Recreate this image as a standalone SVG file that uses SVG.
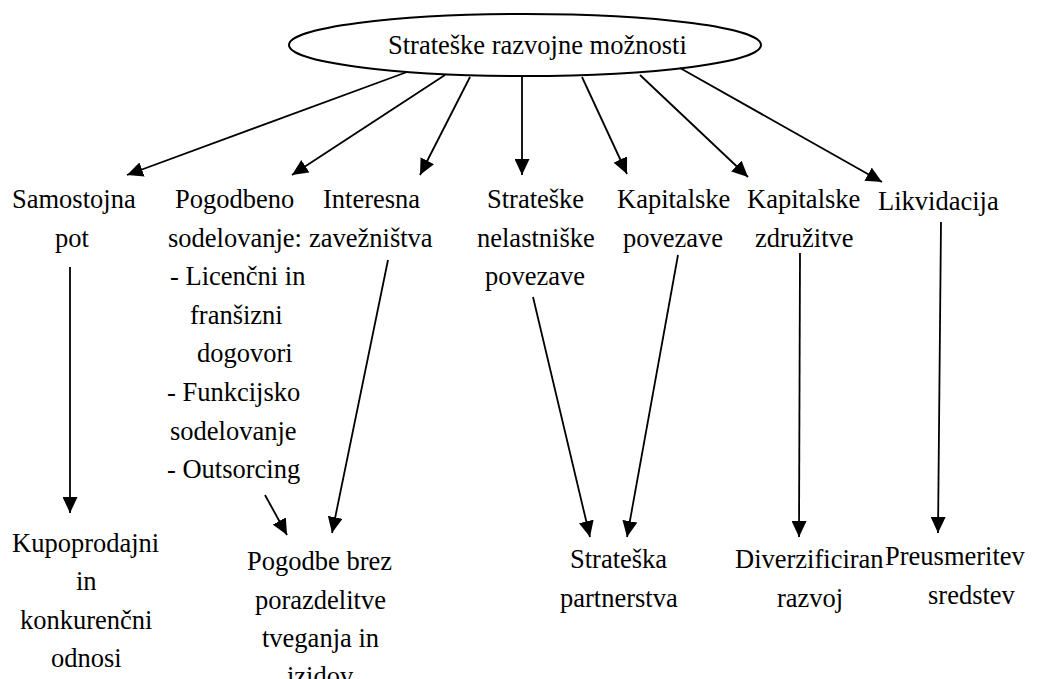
<svg xmlns="http://www.w3.org/2000/svg" width="1048" height="679" viewBox="0 0 1048 679">
  <defs>
    <marker id="head" markerUnits="userSpaceOnUse" markerWidth="16" markerHeight="15" refX="16" refY="7.5" orient="auto">
      <path d="M0,0 L16,7.5 L0,15 Z" fill="#000"/>
    </marker>
  </defs>
  <rect width="1048" height="679" fill="#fff"/>

  <g font-size="26.5" fill="#000">
  <!-- root -->
  <g id="root">
    <ellipse cx="525" cy="45" rx="236" ry="31" fill="#fff" stroke="#000" stroke-width="2"/>
    <text x="388" y="54" font-family="Liberation Serif">Strateške razvojne možnosti</text>
  </g>

  <!-- first level -->
  <g id="samostojna">
    <text x="12" y="208" font-family="Liberation Serif">Samostojna</text>
    <text x="55" y="247" font-family="Liberation Serif">pot</text>
  </g>
  <g id="pogodbeno">
    <text x="175" y="208" font-family="Liberation Serif">Pogodbeno</text>
    <text x="168" y="247" font-family="Liberation Serif">sodelovanje:</text>
    <text x="170" y="285" font-family="Liberation Serif">- Licenčni in</text>
    <text x="190" y="324" font-family="Liberation Serif">franšizni</text>
    <text x="197" y="362" font-family="Liberation Serif">dogovori</text>
    <text x="167" y="401" font-family="Liberation Serif">- Funkcijsko</text>
    <text x="170" y="440" font-family="Liberation Serif">sodelovanje</text>
    <text x="167" y="478" font-family="Liberation Serif">- Outsorcing</text>
  </g>
  <g id="interesna">
    <text x="323" y="208" font-family="Liberation Serif">Interesna</text>
    <text x="309" y="247" font-family="Liberation Serif">zavežništva</text>
  </g>
  <g id="nelastniske">
    <text x="487" y="208" font-family="Liberation Serif">Strateške</text>
    <text x="477" y="247" font-family="Liberation Serif">nelastniške</text>
    <text x="485" y="285" font-family="Liberation Serif">povezave</text>
  </g>
  <g id="kap-povezave">
    <text x="617" y="208" font-family="Liberation Serif">Kapitalske</text>
    <text x="623" y="247" font-family="Liberation Serif">povezave</text>
  </g>
  <g id="kap-zdruzitve">
    <text x="747" y="208" font-family="Liberation Serif">Kapitalske</text>
    <text x="755" y="247" font-family="Liberation Serif">združitve</text>
  </g>
  <g id="likvidacija">
    <text x="878" y="210" font-family="Liberation Serif">Likvidacija</text>
  </g>

  <!-- second level -->
  <g id="kupoprodajni">
    <text x="12" y="552" font-family="Liberation Serif">Kupoprodajni</text>
    <text x="76" y="590" font-family="Liberation Serif">in</text>
    <text x="20" y="629" font-family="Liberation Serif">konkurenčni</text>
    <text x="51" y="667" font-family="Liberation Serif">odnosi</text>
  </g>
  <g id="pogodbe-brez">
    <text x="247" y="570" font-family="Liberation Serif">Pogodbe brez</text>
    <text x="255" y="609" font-family="Liberation Serif">porazdelitve</text>
    <text x="262" y="647" font-family="Liberation Serif">tveganja in</text>
    <text x="287" y="685" font-family="Liberation Serif">izidov</text>
  </g>
  <g id="partnerstva">
    <text x="570" y="568" font-family="Liberation Serif">Strateška</text>
    <text x="560" y="607" font-family="Liberation Serif">partnerstva</text>
  </g>
  <g id="diverzificiran">
    <text x="735" y="568" font-family="Liberation Serif">Diverzificiran</text>
    <text x="777" y="607" font-family="Liberation Serif">razvoj</text>
  </g>
  <g id="preusmeritev">
    <text x="885" y="565" font-family="Liberation Serif">Preusmeritev</text>
    <text x="928" y="604" font-family="Liberation Serif">sredstev</text>
  </g>
  </g>

  <!-- connectors -->
  <g id="connectors" stroke="#000" stroke-width="1.8" fill="none" marker-end="url(#head)">
    <line x1="407" y1="72" x2="127" y2="175"/>
    <line x1="445" y1="75" x2="292" y2="175"/>
    <line x1="470" y1="77" x2="420" y2="175"/>
    <line x1="522" y1="77" x2="522" y2="175"/>
    <line x1="582" y1="77" x2="627" y2="174"/>
    <line x1="640" y1="75" x2="748" y2="177"/>
    <line x1="680" y1="68" x2="882" y2="182"/>

    <line x1="70" y1="267" x2="70" y2="513"/>
    <line x1="265" y1="495" x2="287" y2="535"/>
    <line x1="388" y1="260" x2="332" y2="533"/>
    <line x1="533" y1="297" x2="590" y2="537"/>
    <line x1="678" y1="255" x2="627" y2="537"/>
    <line x1="800" y1="253" x2="799" y2="537"/>
    <line x1="941" y1="222" x2="938" y2="533"/>
  </g>
</svg>
